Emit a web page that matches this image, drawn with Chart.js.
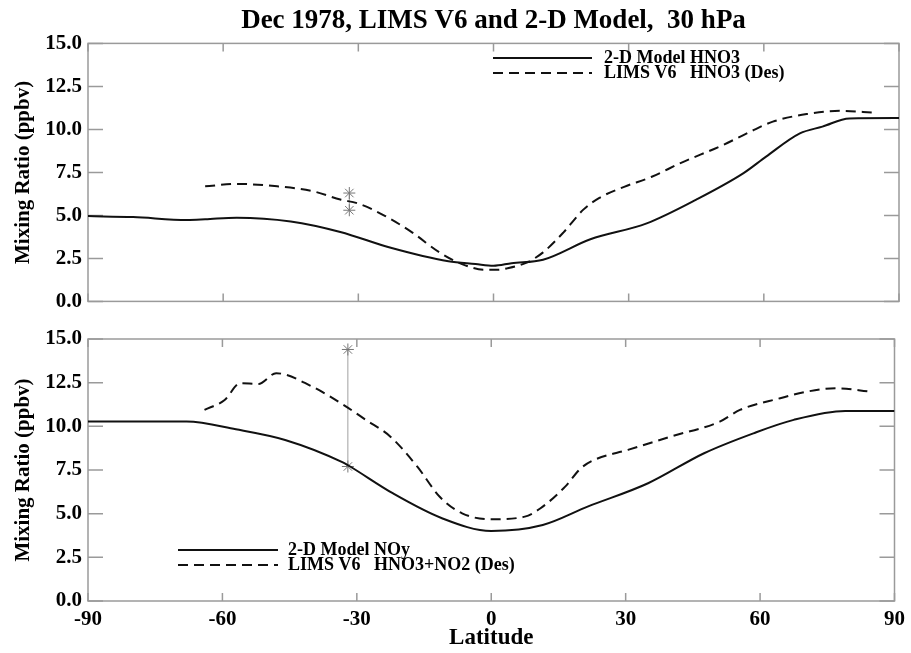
<!DOCTYPE html>
<html>
<head>
<meta charset="utf-8">
<script src="https://cdn.jsdelivr.net/npm/chart.js@4.4.0/dist/chart.umd.min.js"></script>
<style>
  html, body { margin: 0; padding: 0; background: #fff; }
  #wrap { position: relative; width: 911px; height: 653px; }
  #topChart { position: absolute; left: 0; top: 0; }
  #botChart { position: absolute; left: 0; top: 320px; }
</style>
</head>
<body>
<div id="wrap">
  <canvas id="topChart" width="911" height="320"></canvas>
  <canvas id="botChart" width="911" height="333"></canvas>
</div>
<script>
// top panel: HNO3
const topModelLat = [-90, -80, -68, -64, -57, -45, -34, -23, -10, -4, 0, 4, 11, 21.5, 34, 45, 55.5, 60.5, 68, 73, 79, 90];
const topModelVal = [4.96, 4.9, 4.73, 4.77, 4.87, 4.65, 4.04, 3.13, 2.33, 2.17, 2.07, 2.22, 2.42, 3.61, 4.54, 5.92, 7.46, 8.42, 9.77, 10.16, 10.64, 10.66];
const topLimsLat = [-64, -57, -48, -40, -34, -30, -24, -18, -12, -7, -2, 1, 3, 7.5, 11, 15.5, 20, 23.5, 29, 35, 41.5, 51, 57, 62, 69.5, 77, 84.5];
const topLimsVal = [6.69, 6.83, 6.69, 6.4, 5.92, 5.69, 4.96, 4.0, 2.85, 2.17, 1.84, 1.84, 1.92, 2.27, 2.85, 4.0, 5.35, 6.02, 6.66, 7.23, 8.04, 9.1, 9.87, 10.45, 10.89, 11.08, 10.97];

// bottom panel: NOy
const botModelLat = [-90, -68, -57, -46, -33, -31.5, -22, -11, 0, 11.5, 21.5, 35, 47.5, 58.5, 67.5, 79, 90];
const botModelVal = [10.27, 10.27, 9.83, 9.22, 7.92, 7.7, 6.17, 4.74, 4.01, 4.35, 5.4, 6.74, 8.46, 9.6, 10.37, 10.88, 10.88];
const botLimsLat = [-64, -59.5, -56, -52, -48, -40, -33, -28, -22.5, -16.5, -11.5, -6.5, 0, 7.5, 11, 16.5, 20, 23, 30.5, 40, 51, 55.5, 64.5, 70.5, 77, 84.5];
const botLimsVal = [10.94, 11.51, 12.47, 12.43, 13.04, 12.28, 11.23, 10.37, 9.41, 7.69, 5.97, 5.02, 4.68, 4.83, 5.31, 6.55, 7.6, 8.08, 8.65, 9.41, 10.27, 10.94, 11.61, 11.99, 12.18, 11.99];

// error bars at one latitude
const errLat = -32;
const topErr = [5.3, 6.3];
const botErr = [7.7, 14.4];

const xTicks = [-90, -60, -30, 0, 30, 60, 90];
const yTicks = [0, 2.5, 5, 7.5, 10, 12.5, 15];

const serif = "'Liberation Serif', 'Times New Roman', serif";
const ink = '#111';
const frameGray = '#9a9a9a';

function pts(xs, ys) {
  return xs.map((x, i) => ({ x: x, y: ys[i] }));
}

function curve(label, xs, ys, dashed) {
  return {
    label: label,
    data: pts(xs, ys),
    borderColor: ink,
    borderWidth: 2,
    borderDash: dashed ? [10, 6] : [],
    pointRadius: 0,
    cubicInterpolationMode: 'monotone',
    fill: false
  };
}

function errBar(vals) {
  return {
    label: '',
    data: vals.map(v => ({ x: errLat, y: v })),
    borderColor: '#a0a0a0',
    borderWidth: 1,
    pointStyle: 'star',
    pointRadius: 6,
    pointBorderColor: '#777',
    pointBorderWidth: 1,
    fill: false
  };
}

// box frame with inward ticks, like the original plot
const framePlugin = {
  id: 'frame',
  beforeDatasetsDraw(chart) {
    const { ctx, chartArea: a, scales } = chart;
    ctx.save();
    ctx.strokeStyle = frameGray;
    ctx.lineWidth = 1.5;
    ctx.strokeRect(a.left, a.top, a.right - a.left, a.bottom - a.top);
    ctx.beginPath();
    yTicks.forEach(v => {
      const py = scales.y.getPixelForValue(v);
      ctx.moveTo(a.left, py); ctx.lineTo(a.left + 15, py);
      ctx.moveTo(a.right, py); ctx.lineTo(a.right - 15, py);
    });
    xTicks.forEach(v => {
      const px = scales.x.getPixelForValue(v);
      ctx.moveTo(px, a.bottom); ctx.lineTo(px, a.bottom - 8);
      ctx.moveTo(px, a.top); ctx.lineTo(px, a.top + 8);
    });
    ctx.stroke();
    ctx.restore();
  }
};

// legend drawn inside the plot at a fixed spot
const boxLegendPlugin = {
  id: 'boxLegend',
  afterDraw(chart, args, opts) {
    const ctx = chart.ctx;
    ctx.save();
    ctx.font = 'bold 18px ' + serif;
    ctx.textBaseline = 'middle';
    ctx.fillStyle = '#000';
    chart.data.datasets.filter(d => d.label).forEach((d, i) => {
      const y = opts.y + i * opts.gap;
      ctx.strokeStyle = d.borderColor;
      ctx.lineWidth = 2;
      ctx.setLineDash(d.borderDash || []);
      ctx.beginPath();
      ctx.moveTo(opts.x, y);
      ctx.lineTo(opts.x + opts.len, y);
      ctx.stroke();
      ctx.fillText(d.label, opts.textX, y);
    });
    ctx.restore();
  }
};

function panel(id, datasets, showX, legendPos) {
  const opts = {
    responsive: false,
    animation: false,
    layout: { padding: showX ? { left: 0, right: 12, top: 19, bottom: 0 } : { left: 0, right: 12, top: 0, bottom: 18 } },
    scales: {
      x: {
        type: 'linear', min: -90, max: 90,
        display: showX,
        grid: { display: false, drawTicks: false },
        border: { display: false },
        ticks: { stepSize: 30, padding: 6, color: '#000', font: { family: serif, size: 21, weight: 'bold' } },
        title: { display: true, text: 'Latitude', color: '#000', padding: { top: 0, bottom: 1 }, font: { family: serif, size: 23, weight: 'bold' } },
        afterFit: s => { if (showX) s.height = 52; }
      },
      y: {
        type: 'linear', min: 0, max: 15,
        grid: { display: false, drawTicks: false },
        border: { display: false },
        ticks: { stepSize: 2.5, padding: 6, color: '#000', callback: v => v.toFixed(1), font: { family: serif, size: 21, weight: 'bold' } },
        title: { display: true, text: 'Mixing Ratio (ppbv)', color: '#000', padding: { top: 11, bottom: 0 }, font: { family: serif, size: 21, weight: 'bold' } },
        afterFit: s => { s.width = 88; }
      }
    },
    plugins: {
      legend: { display: false },
      tooltip: { enabled: false },
      title: {
        display: !showX,
        fullSize: false,
        text: 'Dec 1978, LIMS V6 and 2-D Model,  30 hPa',
        color: '#000',
        padding: { top: 5, bottom: 6 },
        font: { family: serif, size: 27, weight: 'bold' }
      },
      boxLegend: legendPos
    }
  };
  return new Chart(document.getElementById(id), {
    type: 'line',
    data: { datasets: datasets },
    options: opts,
    plugins: [framePlugin, boxLegendPlugin]
  });
}

panel('topChart', [
  curve('2-D Model HNO3', topModelLat, topModelVal, false),
  curve('LIMS V6   HNO3 (Des)', topLimsLat, topLimsVal, true),
  errBar(topErr)
], false, { x: 493, y: 58, gap: 15, len: 99, textX: 604 });

panel('botChart', [
  curve('2-D Model NOy', botModelLat, botModelVal, false),
  curve('LIMS V6   HNO3+NO2 (Des)', botLimsLat, botLimsVal, true),
  errBar(botErr)
], true, { x: 178, y: 230, gap: 15, len: 100, textX: 288 });
</script>
</body>
</html>
